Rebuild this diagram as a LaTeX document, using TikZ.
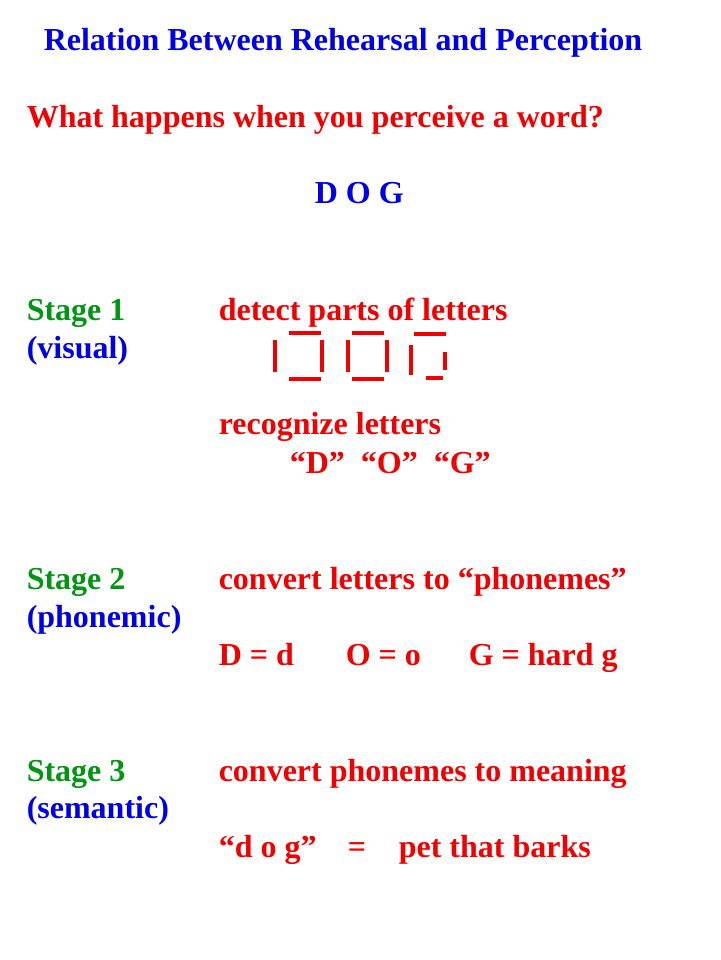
\documentclass[tikz,border=0pt]{standalone}
\usepackage{fontspec}
\setmainfont{Liberation Serif}
\usepackage{tikz}
\definecolor{slideblue}{RGB}{0,0,230}
\definecolor{slidered}{RGB}{240,0,0}
\definecolor{slidegreen}{RGB}{0,150,20}

\begin{document}
\begin{tikzpicture}[x=1pt,y=-1pt,line width=3.5pt]
          \tikzstyle{every node}=[font=\fontsize{32}{38}\selectfont\bfseries,anchor=base west,inner sep=0pt]
          \useasboundingbox[fill=white] (0,0) rectangle (720,960);
            \node[text=slideblue] (title) at (42, 51) {Relation Between Rehearsal and Perception};
            \node[text=slidered] (question) at (25, 128) {What happens when you perceive a word?};
            \node[text=slideblue] (word) at (313, 204) {D O G};
            % stage 1
            \node[text=slidegreen] (s1) at (25, 320) {Stage 1};
            \node[text=slideblue] (s1n) at (25, 358) {(visual)};
            \node[text=slidered] (s1a) at (217, 320) {detect parts of letters};
            \node[text=slidered] (s1b) at (217, 434) {recognize letters};
            \node[text=slidered] (s1c) at (288, 473) {``D''~~``O''~~``G''};
            % letter parts
            \draw[slidered] (275,340) -- (275,372);
            \draw[slidered] (289,333) -- (321,333);
            \draw[slidered] (322,340) -- (322,372);
            \draw[slidered] (289,379) -- (321,379);
            \draw[slidered] (348,340) -- (348,372);
            \draw[slidered] (352,333) -- (384,333);
            \draw[slidered] (387,340) -- (387,372);
            \draw[slidered] (352,379) -- (384,379);
            \draw[slidered] (411,345) -- (411,375);
            \draw[slidered] (414,334) -- (446,334);
            \draw[slidered] (445,352) -- (445,370);
            \draw[slidered] (426,378) -- (443,378);
            % stage 2
            \node[text=slidegreen] (s2) at (25, 589) {Stage 2};
            \node[text=slideblue] (s2n) at (25, 627) {(phonemic)};
            \node[text=slidered] (s2a) at (217, 589) {convert letters to ``phonemes''};
            \node[text=slidered] (s2b) at (217, 665) {D = d};
            \node[text=slidered] (s2c) at (344, 665) {O = o};
            \node[text=slidered] (s2d) at (467, 665) {G = hard g};
            % stage 3
            \node[text=slidegreen] (s3) at (25, 781) {Stage 3};
            \node[text=slideblue] (s3n) at (25, 818) {(semantic)};
            \node[text=slidered] (s3a) at (217, 781) {convert phonemes to meaning};
            \node[text=slidered] (s3b) at (217, 857) {``d o g''};
            \node[text=slidered] (s3c) at (346, 857) {=};
            \node[text=slidered] (s3d) at (397, 857) {pet that barks};
        \end{tikzpicture}
\end{document}
